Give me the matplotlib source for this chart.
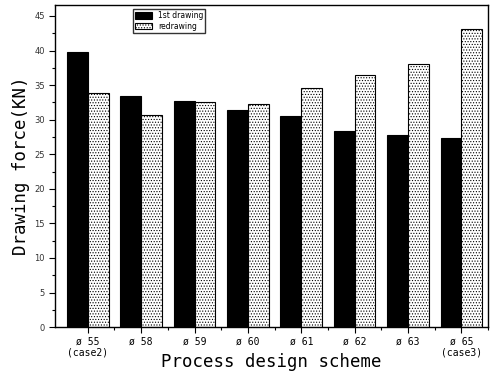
import matplotlib
matplotlib.use("Agg")
import matplotlib.pyplot as plt
import numpy as np
from matplotlib.ticker import MultipleLocator

categories = ["ø 55\n(case2)", "ø 58", "ø 59", "ø 60", "ø 61", "ø 62", "ø 63", "ø 65\n(case3)"]
first_drawing = [39.8, 33.4, 32.7, 31.4, 30.5, 28.4, 27.8, 27.4]
redrawing = [33.8, 30.7, 32.6, 32.3, 34.6, 36.4, 38.0, 43.1]
yticks = [0, 5, 10, 15, 20, 25, 30, 35, 40, 45]

plt.rcParams['hatch.color'] = '#777777'
plt.rcParams['hatch.linewidth'] = 0.5

fig = plt.figure(figsize=(4.93, 3.76), dpi=100)
ax = fig.add_axes([0.112, 0.13, 0.878, 0.857])

x = np.arange(len(categories))
w = 0.39
ax.bar(x - w/2, first_drawing, w, color="black", edgecolor="black", linewidth=0.8, label="1st drawing")
ax.bar(x + w/2, redrawing, w, color="white", edgecolor="black", linewidth=0.8,
       hatch="......", label="redrawing")

ax.set_xlim(-0.61, 7.37)
ax.set_ylim(0, 46.6)
ax.set_yticks(yticks)
ax.set_yticklabels([str(v) for v in yticks], fontsize=6, color="#333333")
ax.yaxis.set_minor_locator(MultipleLocator(2.5))
ax.set_xticks(x)
ax.set_xticklabels(categories, fontsize=7, family="DejaVu Sans Mono", linespacing=1.1)
ax.set_xticks(x + 0.5, minor=True)
ax.tick_params(axis="both", which="major", direction="out", length=4, width=0.8)
ax.tick_params(axis="x", which="major", pad=3)
ax.tick_params(axis="both", which="minor", direction="out", length=2.5, width=0.8)
for s in ax.spines.values():
    s.set_linewidth(1.0)

ax.set_ylabel("Drawing force(KN)", fontsize=12.5, family="DejaVu Sans Mono")
ax.yaxis.set_label_coords(-0.058, 0.5)
ax.set_xlabel("Process design scheme", fontsize=12.5, family="DejaVu Sans Mono", labelpad=-3)

ax.legend(loc="upper left", bbox_to_anchor=(0.17, 1.0), fontsize=5.5, frameon=True,
          fancybox=False, edgecolor="black", handlelength=2.2, handleheight=0.9,
          borderpad=0.3, labelspacing=0.2)

fig.savefig("out.png", dpi=100)
